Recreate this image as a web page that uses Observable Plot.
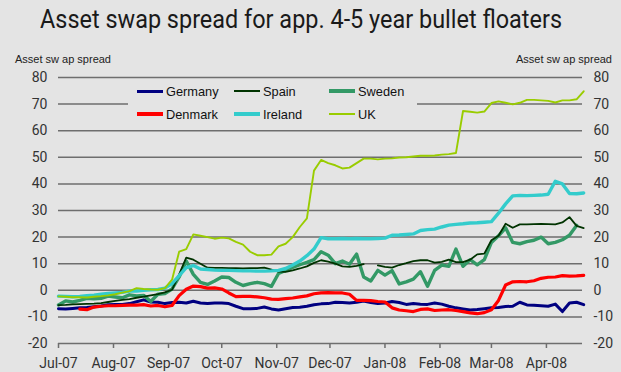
<!DOCTYPE html>
<html><head><meta charset="utf-8">
<script src="https://cdn.jsdelivr.net/npm/d3@7"></script>
<script src="https://cdn.jsdelivr.net/npm/@observablehq/plot@0.6"></script>
<style>
html,body{margin:0;padding:0;background:#e4e4e4;}
#wrap{position:relative;width:621px;height:372px;background:#e4e4e4;overflow:hidden;font-family:Roboto,sans-serif;}
#head{position:relative;height:66px;}
#title{position:absolute;left:40px;top:5px;font-size:25px;color:#1a1a1a;white-space:nowrap;display:inline-block;transform-origin:0 50%;}
.axlab{position:absolute;top:53px;font-family:"Liberation Sans",Arial,sans-serif;font-size:11px;color:#222;white-space:nowrap;}
#legend{position:absolute;left:128px;top:80px;width:289px;height:46px;background:#e4e4e4;font-family:"Liberation Sans",Arial,sans-serif;font-size:12.8px;color:#111;}
.item{position:absolute;height:16px;display:flex;align-items:center;white-space:nowrap;}
.sw{display:inline-block;width:26px;margin-right:3px;}
svg{display:block;}
</style>
</head><body>
<div id="wrap">
  <div id="head">
    <span id="title">Asset swap spread for app. 4-5 year bullet floaters</span>
    <span class="axlab" style="left:15px">Asset sw ap spread</span>
    <span class="axlab" style="right:9px">Asset sw ap spread</span>
  </div>
  <div id="chart"></div>
  <div id="legend"></div>
</div>
<script>
// ---- data: values every 4 days starting 1 Jul 2007 ----
const startDate = Date.UTC(2007, 6, 1);
const stepDays = 4;
const seriesNames = ["Germany", "Spain", "Sweden", "Denmark", "Ireland", "UK"];
const seriesColors = ["#000080", "#003300", "#339966", "#ff0000", "#33cccc", "#99cc00"];
const seriesWidths = [3, 1.8, 3.4, 3.2, 3.4, 1.9];
const yTicks = [-20, -10, 0, 10, 20, 30, 40, 50, 60, 70, 80];

const germany = [-6.9,-7.0,-6.8,-6.6,-6.5,-6.2,-5.9,-5.4,-5.3,-5.3, -5.0,-4.3,-3.6,-4.4,-4.5,-5.0,-4.6,-4.5,-4.8,-4.1, -4.8,-5.0,-4.8,-4.8,-5.0,-6.0,-6.9,-6.9,-6.8,-6.3, -7.0,-7.4,-6.9,-6.5,-6.4,-6.0,-5.4,-5.1,-5.0,-4.5, -4.6,-4.8,-4.5,-4.0,-4.6,-5.0,-4.8,-4.2,-4.6,-5.3, -5.0,-5.2,-5.3,-4.8,-5.2,-6.0,-6.6,-7.0,-7.4,-7.2, -6.9,-6.6,-6.5,-6.1,-6.0,-4.5,-5.5,-5.6,-5.8,-6.0, -5.2,-8.0,-4.8,-4.5,-5.4];
const spain = [-5.6,-5.5,-5.3,-5.2,-5.1,-5.0,-4.8,-4.4,-4.0,-3.6, -3.3,-2.8,-2.4,-1.9,-1.4,-0.8,0.2,6,12.3,11.5, 10,8.5,8.4,8.4,8.3,8.3,8.2,8.3,8.3,8.5, 7.8,7.0,6.9,7.5,8.2,9.0,10.3,11.3,10.8,10.0, 9.0,8.8,9.2,9.8,null,9.4,8.8,8.5,9.5,10.2, 11,11.3,11.3,10.4,10.7,11.5,10.6,10.6,11.5,13.5, 13.8,18.8,20.5,25,23.5,24.8,24.8,24.9,25,24.9, 24.8,25.5,27.5,24.2,23.4];
const sweden = [-5.5,-4.0,-4.4,-3.8,-3.0,-3.2,-3.0,-2.2,-2.5,-2.8, -1.7,-2.1,-1.9,-4.2,-1.5,-1.2,0.5,5,11,6, 3,2.2,3.5,5,4.8,3,1.8,2.5,3,2.5, 1.5,6.3,7.5,8.6,9.6,10.5,11.5,14.5,13.2,10, 11,9.8,13.6,5,3.5,7.5,5.7,7.4,2.4,3.2, 4.2,7,1.5,7.5,9.5,9,15.5,9,11.5,9.6, 11.5,18,20.5,23.5,18,17.5,18.3,18.8,20,17.5, 18,19,20.7,24.4,null];
const denmark = [null,null,null,-7.1,-7.3,-6.3,-6.0,-5.8,-5.8,-5.7, -5.6,-5.6,-5.4,-5.9,-5.7,-6.2,-5.7,-2.0,0.4,1.6, 1.4,0.8,0.9,0.5,-1.0,-2.4,-2.3,-2.3,-2.5,-2.8, -3.3,-3.4,-3.1,-2.9,-2.5,-2.1,-1.3,-1.0,-0.9,-1.0, -1.0,-1.5,-3.8,-3.8,-3.9,-4.2,-4.4,-6.6,-7.4,-7.7, -8.0,-7.2,-7.0,-7.6,-7.4,-7.3,-7.6,-8.0,-8.5,-8.8, -8.4,-7.3,-3.8,2.0,3.2,3.3,3.2,3.6,4.5,4.9, 5.0,5.5,5.3,5.4,5.6];
const ireland = [-2.2,-2.3,-2.4,-2.3,-2.0,-1.8,-1.5,-1.2,-1.0,-0.8, -0.3,-0.3,0,0.2,0.3,0.8,2.5,5.5,8.5,9.3, 8.0,7.8,7.6,7.5,7.5,7.4,7.3,7.3,7.2,7.2, 7.3,7.5,8.2,9.5,11,13,15.5,19.8,19.4,19.4, 19.5,19.4,19.5,19.4,19.4,19.5,19.6,20.7,20.8,21, 21.2,22.5,22.8,23,23.8,24.5,24.8,25,25.3,25.4, 25.6,25.8,29,32.5,35.5,35.7,35.6,35.7,35.8,36.1, 41,40,36.4,36.3,36.6];
const uk = [-2.3,-2.4,-2.6,-2.6,-2.7,-2.4,-2.2,-1.9,-1.5,-0.9, -0.3,0.8,0.5,0.3,0.2,0.8,4,14.5,15.5,21, 20.5,20,19.4,19.8,19.5,18.2,17.2,14.5,13.2,13.2, 13.4,16.5,17.5,20,23.8,27,45,49,47.8,47, 45.8,46.1,47.8,49.5,49.5,49.2,49.5,49.6,49.9,50, 50.3,50.6,50.6,50.7,51,51.2,51.6,67.4,67.1,66.8, 67.2,70.4,71,70.5,69.9,70.5,71.6,71.6,71.4,71.2, 70.6,71.4,71.4,71.8,74.8];

const seriesValues = [germany, spain, sweden, denmark, ireland, uk];
const dates = germany.map((_, i) => new Date(startDate + i * stepDays * 86400000));
const tables = seriesValues.map((vals, s) => vals.map((v, i) => ({date: dates[i], value: v, series: seriesNames[s]})));

const monthTicks = d3.utcMonth.range(new Date(Date.UTC(2007, 6, 1)), new Date(Date.UTC(2008, 3, 2)));
const drawOrder = [0, 3, 2, 1, 4, 5];

const plot = Plot.plot({
  width: 621, height: 306,
  marginTop: 11, marginBottom: 29, marginLeft: 58, marginRight: 39,
  style: {background: "transparent", fontFamily: "Roboto, sans-serif", color: "#333", overflow: "visible"},
  x: {type: "utc", domain: [new Date(Date.UTC(2007, 6, 1)), new Date(Date.UTC(2008, 3, 21, 8))]},
  y: {domain: [-20, 80]},
  marks: [
    Plot.ruleY(yTicks, {stroke: "#6e6e6e", strokeWidth: 1.5}),
    Plot.axisX({ticks: monthTicks, tickFormat: d3.utcFormat("%b-%y"), tickSize: 5, tickPadding: 10, stroke: "#6e6e6e", strokeWidth: 1.5, fontSize: 14, label: null}),
    Plot.axisY({anchor: "left", ticks: yTicks, tickSize: 0, tickPadding: 11, tickFormat: d => String(d), fontSize: 14, label: null}),
    Plot.axisY({anchor: "right", ticks: yTicks, tickSize: 0, tickPadding: 11, tickFormat: d => String(d), fontSize: 14, label: null}),
    ...drawOrder.map(s => Plot.line(tables[s], {x: "date", y: "value", stroke: seriesColors[s], strokeWidth: seriesWidths[s], strokeLinejoin: "round"}))
  ]
});
document.getElementById("chart").appendChild(plot);

// legend (overlay box inside the plot area)
const legendPos = [[9, 3], [106, 3], [201, 3], [9, 26], [106, 26], [201, 26]];
const legend = document.getElementById("legend");
seriesNames.forEach((name, s) => {
  const it = document.createElement("div");
  it.className = "item";
  it.style.left = legendPos[s][0] + "px";
  it.style.top = legendPos[s][1] + "px";
  const sw = document.createElement("span");
  sw.className = "sw";
  sw.style.height = Math.max(2, seriesWidths[s]) + "px";
  sw.style.background = seriesColors[s];
  it.appendChild(sw);
  it.appendChild(document.createTextNode(name));
  legend.appendChild(it);
});

// fit title width
const t = document.getElementById("title");
const w = t.getBoundingClientRect().width;
t.style.transform = "scaleX(" + (522 / w) + ")";
</script>
</body></html>
